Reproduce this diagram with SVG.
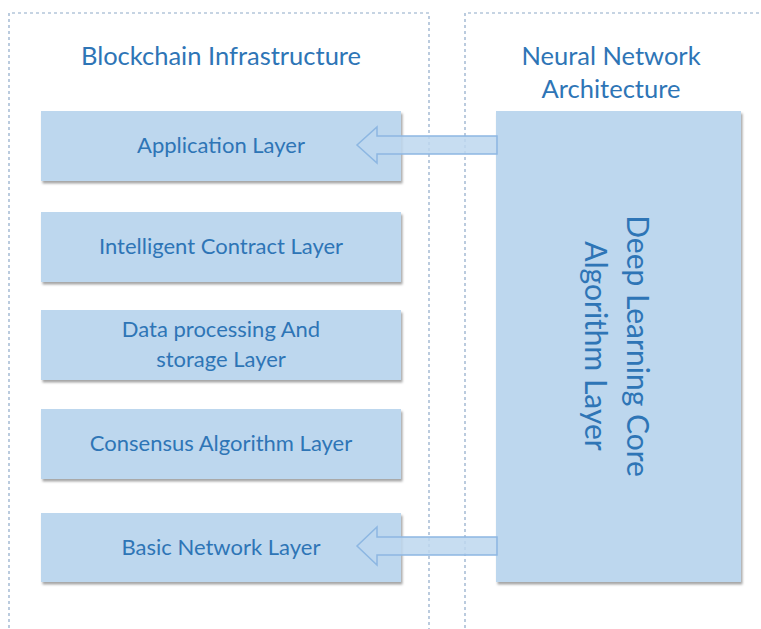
<svg xmlns="http://www.w3.org/2000/svg" width="761" height="629" viewBox="0 0 761 629">
<style>
.cont{fill:none;stroke:#8EA9C8;stroke-width:1.2;stroke-dasharray:3 3}
.box{fill:#BDD7EE;filter:url(#sh)}
.t{font-family:Lato,"Open Sans",sans-serif;fill:#2E75B6;text-anchor:middle}
.lbl{font-size:22px}
.ttl{font-size:25.5px}
.arr{fill:#BDD7EE;fill-opacity:0.85;stroke:#8DB7E2;stroke-width:1.5;stroke-linejoin:miter}
</style>
<defs>
<filter id="sh" x="-5%" y="-5%" width="115%" height="125%">
<feDropShadow dx="1.5" dy="2.5" stdDeviation="1.2" flood-color="#000" flood-opacity="0.35"/>
</filter>
</defs>
<rect width="761" height="629" fill="#fff"/>
<g id="containers">
<path class="cont" d="M9,640 V13 H429 V640"/>
<path class="cont" d="M465,640 V13 H770"/>
<text class="t ttl" x="221" y="65">Blockchain Infrastructure</text>
<text class="t ttl" x="611" y="65">Neural Network</text>
<text class="t ttl" x="611" y="98">Architecture</text>
</g>
<g id="app"><rect class="box" x="41" y="111" width="360" height="70"/><text class="t lbl" x="221" y="153">Application Layer</text></g>
<g id="contract"><rect class="box" x="41" y="212" width="360" height="70"/><text class="t lbl" x="221" y="254">Intelligent Contract Layer</text></g>
<g id="data"><rect class="box" x="41" y="310" width="360" height="70"/><text class="t lbl" x="221" y="337">Data processing And</text><text class="t lbl" x="221" y="367">storage Layer</text></g>
<g id="consensus"><rect class="box" x="41" y="409" width="360" height="70"/><text class="t lbl" x="221" y="451">Consensus Algorithm Layer</text></g>
<g id="network"><rect class="box" x="41" y="513" width="360" height="69"/><text class="t lbl" x="221" y="555">Basic Network Layer</text></g>
<g id="deep"><rect class="box" x="496" y="111" width="245" height="471"/>
<g transform="translate(618,346) rotate(90)"><text class="t" font-size="30" x="0" y="-9">Deep Learning Core</text><text class="t" font-size="30" x="0" y="33">Algorithm Layer</text></g></g>
<g id="connectors">
<path class="arr" d="M497,136 H377 V127 L357,145 L377,163 V154 H497 Z"/>
<path class="arr" d="M497,537 H377 V527 L357,546 L377,565 V555 H497 Z"/>
</g>
</svg>
